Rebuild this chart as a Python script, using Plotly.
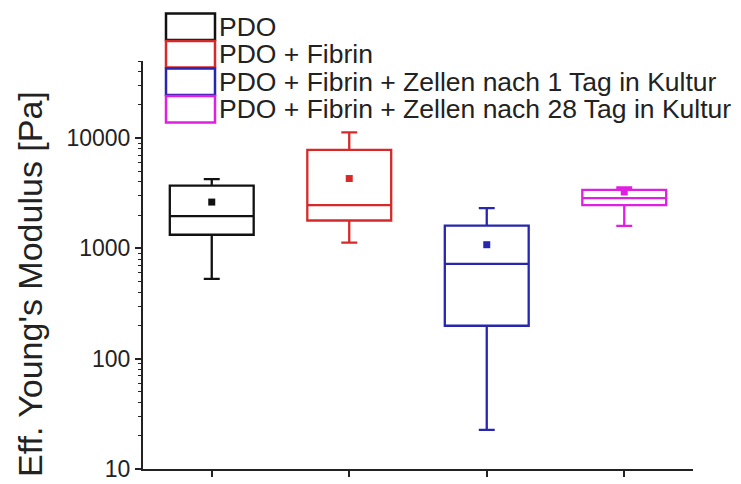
import math
import plotly.graph_objects as go

# Box statistics per sample group (Pa)
groups = [
    "PDO",
    "PDO + Fibrin",
    "PDO + Fibrin + Zellen nach 1 Tag in Kultur",
    "PDO + Fibrin + Zellen nach 28 Tag in Kultur",
]
lower_whisker = [530, 1130, 22.6, 1600]
q1_values = [1330, 1790, 199, 2470]
median_values = [1960, 2470, 725, 2860]
q3_values = [3700, 7830, 1610, 3400]
upper_whisker = [4250, 11250, 2320, 3565]
mean_values = [2630, 4300, 1080, 3250]
colors = ["#111111", "#d62a2a", "#2626b0", "#e020e0"]

y_ticks = [10, 100, 1000, 10000]
y_tick_labels = ["10", "100", "1000", "10000"]
y_title = "Eff. Young's Modulus [Pa]"

FONT = "Liberation Sans, Arial, sans-serif"

fig = go.Figure()

for i, name in enumerate(groups):
    fig.add_trace(go.Box(
        x=[i],
        q1=[q1_values[i]],
        median=[median_values[i]],
        q3=[q3_values[i]],
        lowerfence=[lower_whisker[i]],
        upperfence=[upper_whisker[i]],
        name=name,
        width=0.61,
        whiskerwidth=0.19,
        fillcolor="rgba(255,255,255,0)",
        line=dict(color=colors[i], width=2.3),
        boxpoints=False,
        showlegend=False,
        hoverinfo="skip",
    ))
    fig.add_trace(go.Scatter(
        x=[i],
        y=[mean_values[i]],
        mode="markers",
        marker=dict(symbol="square", size=7, color=colors[i]),
        showlegend=False,
        hoverinfo="skip",
    ))

# Pixel layout of the figure, converted to paper units for the legend and title
W, H = 741, 484
left, right, top, bottom = 143, 48, 61, 15
pw, ph = W - left - right, H - top - bottom


def px_x(px):
    return (px - left) / pw


def px_y(py):
    return (H - bottom - py) / ph


# Legend: stacked outlined swatches with labels
row_top = 13.0
row_h = 27.5
for i, name in enumerate(groups):
    y0 = row_top + i * row_h
    y1 = y0 + row_h
    fig.add_shape(
        type="rect", xref="paper", yref="paper",
        x0=px_x(166), x1=px_x(215), y0=px_y(y1 - 0.5), y1=px_y(y0 + 0.5),
        line=dict(color=colors[i], width=2.5), fillcolor="rgba(255,255,255,0)",
    )
    fig.add_annotation(
        xref="paper", yref="paper", x=px_x(217), y=px_y((y0 + y1) / 2),
        text=name, showarrow=False, xanchor="left", yanchor="middle",
        font=dict(family=FONT, size=26.5, color="#222222"),
    )

# Vertical axis title
fig.add_annotation(
    xref="paper", yref="paper", x=px_x(30), y=px_y(284),
    text=y_title, textangle=-90, showarrow=False,
    xanchor="center", yanchor="middle",
    font=dict(family=FONT, size=34, color="#222222"),
)

fig.update_layout(
    width=W, height=H,
    margin=dict(l=left, r=right, t=top, b=bottom, autoexpand=False),
    paper_bgcolor="white", plot_bgcolor="white",
    font=dict(family=FONT, color="#222222"),
    showlegend=False,
)

fig.update_xaxes(
    range=[-0.5, 3.5],
    tickvals=[0, 1, 2, 3],
    ticktext=["", "", "", ""],
    ticks="outside", ticklen=6, tickwidth=1.5, tickcolor="#222222",
    showline=True, linewidth=2, linecolor="#222222",
    showgrid=False, zeroline=False, automargin=False,
)

fig.update_yaxes(
    type="log",
    range=[1, math.log10(50000)],
    tickvals=y_ticks,
    ticktext=y_tick_labels,
    ticks="outside", ticklen=6, tickwidth=1.5, tickcolor="#222222",
    minor=dict(ticks="outside", ticklen=3, tickwidth=1.2, tickcolor="#222222", dtick="D1"),
    tickfont=dict(family=FONT, size=23, color="#222222"),
    showline=True, linewidth=2, linecolor="#222222",
    showgrid=False, zeroline=False, automargin=False,
)

fig.write_html("out.html")
